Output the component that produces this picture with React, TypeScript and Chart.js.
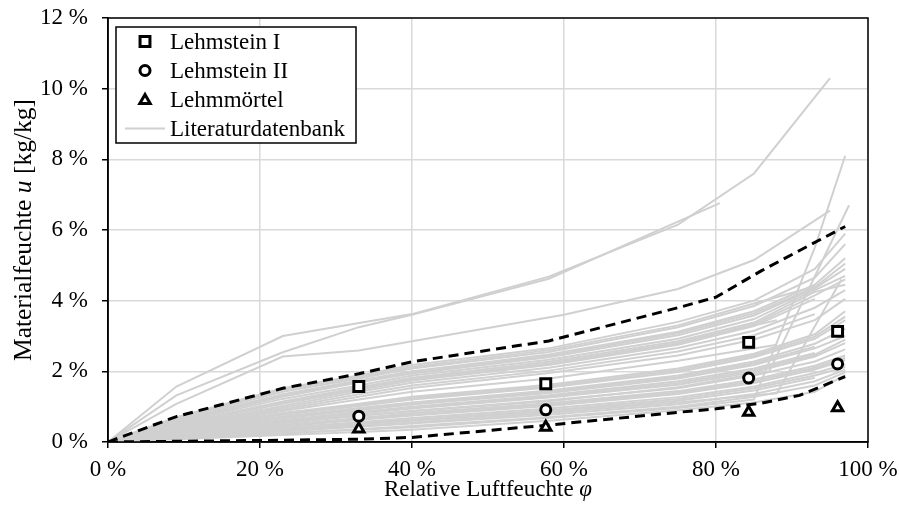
import React, { useEffect, useRef } from 'react';
import { Chart, registerables } from 'chart.js';

Chart.register(...registerables);

const FONT = "'Liberation Serif', 'Times New Roman', serif";
const FS = 23;
const FS_YTITLE = 25.5;

// Axis ticks
const xTickValues = [0, 20, 40, 60, 80, 100];
const yTickValues = [0, 2, 4, 6, 8, 10, 12];

// Measured samples (relative humidity in %, moisture content in %)
const rhMeasured = [33, 57.6, 84.3, 96];
const lehmsteinI = [1.57, 1.65, 2.82, 3.13];
const lehmsteinII = [0.73, 0.91, 1.81, 2.21];
const lehmmoertel = [0.37, 0.42, 0.84, 0.97];

// Envelope (dashed)
const envX = [0, 9, 23, 33, 40, 58, 75, 80, 86, 91, 97];
const envUpper = [0, 0.72, 1.52, 1.93, 2.27, 2.86, 3.8, 4.1, 4.85, 5.42, 6.1];
const envLower = [0, 0.02, 0.05, 0.08, 0.13, 0.48, 0.84, 0.94, 1.1, 1.32, 1.85];

// Literature database curves
const top1X = [0, 9, 23, 40, 58, 75, 85, 95];
const top1U = [0, 1.57, 3.0, 3.62, 4.68, 6.15, 7.6, 10.3];
const top2X = [0, 9, 23, 33, 40, 58, 80.5];
const top2U = [0, 1.32, 2.54, 3.25, 3.6, 4.62, 6.76];
const top3X = [0, 9, 23, 33, 40, 60, 75, 85, 95];
const top3U = [0, 1.08, 2.42, 2.59, 2.85, 3.6, 4.33, 5.15, 6.55];

const rhGrid = [0, 9, 23, 33, 40, 58, 75, 85, 93, 97];
const upperBand = [
  [0, 0.70, 1.52, 1.88, 2.18, 2.65, 3.40, 4.00, 4.90, 5.90],
  [0, 0.68, 1.48, 1.84, 2.12, 2.60, 3.30, 3.92, 4.40],
  [0, 0.66, 1.42, 1.80, 2.08, 2.55, 3.25, 3.85, 4.65, 5.60],
  [0, 0.62, 1.35, 1.74, 2.00, 2.48, 3.12, 3.70, 4.45, 5.20],
  [0, 0.60, 1.32, 1.70, 1.97, 2.44, 3.08, 3.64, 4.38, 5.05],
  [0, 0.58, 1.28, 1.68, 1.94, 2.40, 3.02, 3.58, 4.35, 4.90],
  [0, 0.55, 1.22, 1.60, 1.88, 2.33, 2.92, 3.48, 4.30, 4.70],
  [0, 0.52, 1.15, 1.54, 1.82, 2.27, 2.85, 3.38, 4.25, 4.45],
  [0, 0.50, 1.12, 1.50, 1.78, 2.22, 2.80, 3.33, 4.15, 4.60],
  [0, 0.48, 1.08, 1.47, 1.74, 2.18, 2.75, 3.28, 4.05],
  [0, 0.45, 1.02, 1.42, 1.68, 2.10, 2.66, 3.15, 3.80, 4.30],
  [0, 0.42, 0.97, 1.35, 1.60, 2.02, 2.56, 3.02, 3.62],
  [0, 0.40, 0.92, 1.28, 1.53, 1.95, 2.45, 2.90, 3.45, 4.05],
];
const lowerBand = [
  [0, 0.36, 0.82, 1.08, 1.28, 1.62, 2.08, 2.50, 3.05, 3.70],
  [0, 0.35, 0.80, 1.05, 1.24, 1.58, 2.03, 2.45, 2.98, 3.55],
  [0, 0.34, 0.77, 1.02, 1.20, 1.54, 1.98, 2.40, 2.92, 3.45],
  [0, 0.32, 0.72, 0.96, 1.12, 1.46, 1.88, 2.28, 2.78, 3.20],
  [0, 0.31, 0.70, 0.93, 1.09, 1.42, 1.84, 2.23, 2.70],
  [0, 0.30, 0.67, 0.90, 1.06, 1.39, 1.80, 2.18, 2.65, 3.00],
  [0, 0.28, 0.62, 0.85, 1.00, 1.32, 1.72, 2.08, 2.52],
  [0, 0.27, 0.60, 0.82, 0.98, 1.29, 1.67, 2.03, 2.47, 2.90],
  [0, 0.26, 0.57, 0.80, 0.95, 1.26, 1.62, 1.98, 2.42, 2.80],
  [0, 0.24, 0.52, 0.74, 0.88, 1.18, 1.52, 1.88, 2.28, 2.62],
  [0, 0.22, 0.48, 0.68, 0.82, 1.10, 1.44, 1.77, 2.16, 2.45],
  [0, 0.21, 0.46, 0.65, 0.78, 1.06, 1.40, 1.72, 2.10, 2.38],
  [0, 0.20, 0.44, 0.62, 0.75, 1.02, 1.36, 1.67, 2.05, 2.32],
  [0, 0.18, 0.40, 0.56, 0.68, 0.95, 1.27, 1.57, 1.95, 2.20],
  [0, 0.17, 0.38, 0.53, 0.64, 0.90, 1.22, 1.52, 1.88, 2.12],
  [0, 0.15, 0.35, 0.50, 0.60, 0.86, 1.17, 1.46, 1.82],
  [0, 0.12, 0.30, 0.43, 0.52, 0.77, 1.07, 1.36, 1.72, 2.05],
  [0, 0.10, 0.25, 0.36, 0.45, 0.70, 1.00, 1.28, 1.60, 1.98],
  [0, 0.08, 0.20, 0.28, 0.35, 0.60, 0.90, 1.12, 1.42, 1.90],
];
const steep1X = [0, 9, 23, 33, 40, 58, 75, 85, 93, 97];
const steep1U = [0, 0.10, 0.25, 0.35, 0.42, 0.68, 0.96, 1.20, 5.50, 8.10];
const steep2X = [0, 9, 23, 33, 40, 58, 75, 87, 97.5];
const steep2U = [0, 0.25, 0.55, 0.75, 0.88, 1.15, 1.55, 2.0, 6.7];
const steep3X = [0, 9, 23, 33, 40, 58, 75, 88, 96.5];
const steep3U = [0, 0.14, 0.33, 0.46, 0.55, 0.82, 1.12, 1.38, 4.6];
const short1X = [0, 9, 23, 33, 40, 58, 75, 88];
const short1U = [0, 0.50, 1.12, 1.50, 1.76, 2.20, 2.78, 3.45];
const short2X = [0, 9, 23, 33, 40, 58, 75, 88];
const short2U = [0, 0.38, 0.88, 1.20, 1.42, 1.80, 2.30, 2.75];

const GRAY = 'rgb(208,208,208)';

const pts = (xs: number[], ys: number[]) => ys.map((y, i) => ({ x: xs[i], y }));

function drawRich(ctx: CanvasRenderingContext2D, parts: { t: string; it?: boolean }[], cx: number, cy: number, rot: number, size: number) {
  ctx.save();
  ctx.translate(cx, cy);
  ctx.rotate(rot);
  ctx.textBaseline = 'middle';
  ctx.textAlign = 'left';
  ctx.fillStyle = '#000';
  let total = 0;
  const widths = parts.map((p) => {
    ctx.font = `${p.it ? 'italic ' : ''}${size}px ${FONT}`;
    const w = ctx.measureText(p.t).width;
    total += w;
    return w;
  });
  let x = -total / 2;
  parts.forEach((p, i) => {
    ctx.font = `${p.it ? 'italic ' : ''}${size}px ${FONT}`;
    ctx.fillText(p.t, x, 0);
    x += widths[i];
  });
  ctx.restore();
}

function drawMarker(ctx: CanvasRenderingContext2D, kind: string, x: number, y: number, r: number) {
  ctx.beginPath();
  if (kind === 'rect') {
    const s = r * Math.SQRT1_2;
    ctx.rect(x - s, y - s, 2 * s, 2 * s);
  } else if (kind === 'circle') {
    ctx.arc(x, y, r * 0.72, 0, Math.PI * 2);
  } else {
    ctx.moveTo(x, y - r);
    ctx.lineTo(x + Math.sin((2 * Math.PI) / 3) * r, y + r / 2);
    ctx.lineTo(x - Math.sin((2 * Math.PI) / 3) * r, y + r / 2);
    ctx.closePath();
  }
  ctx.fillStyle = '#fff';
  ctx.fill();
  ctx.stroke();
}

const decorPlugin = {
  id: 'decor',
  afterDraw(chart: any) {
    const { ctx, chartArea: a } = chart;
    ctx.save();
    ctx.strokeStyle = '#000';
    ctx.lineWidth = 1.5;
    ctx.strokeRect(a.left, a.top, a.right - a.left, a.bottom - a.top);

    // legend
    const lx = 116, ly = 27, lw = 240, lh = 116;
    ctx.fillStyle = '#fff';
    ctx.fillRect(lx, ly, lw, lh);
    ctx.strokeRect(lx, ly, lw, lh);
    const rows = [41.5, 70.5, 99.5, 128.5];
    const labels = ['Lehmstein I', 'Lehmstein II', 'Lehmmörtel', 'Literaturdatenbank'];
    const kinds = ['rect', 'circle', 'triangle', 'line'];
    rows.forEach((ry, i) => {
      ctx.strokeStyle = '#000';
      ctx.lineWidth = 3;
      if (kinds[i] === 'line') {
        ctx.strokeStyle = GRAY;
        ctx.lineWidth = 2;
        ctx.beginPath();
        ctx.moveTo(125, ry);
        ctx.lineTo(165, ry);
        ctx.stroke();
      } else {
        drawMarker(ctx, kinds[i], 145, ry + (kinds[i] === 'triangle' ? 1 : 0), kinds[i] === 'triangle' ? 6 : 7);
      }
      ctx.fillStyle = '#000';
      ctx.font = `${FS}px ${FONT}`;
      ctx.textBaseline = 'middle';
      ctx.textAlign = 'left';
      ctx.fillText(labels[i], 170, ry + 1);
    });
    ctx.restore();

    drawRich(ctx, [{ t: 'Materialfeuchte ' }, { t: 'u', it: true }, { t: ' [kg/kg]' }], 24, (a.top + a.bottom) / 2, -Math.PI / 2, FS_YTITLE);
    drawRich(ctx, [{ t: 'Relative Luftfeuchte ' }, { t: 'φ', it: true }], (a.left + a.right) / 2, 489.5, 0, FS);
  },
};

const zeroPad = (s: any) => {
  s.paddingTop = 0;
  s.paddingBottom = 0;
  s.paddingLeft = 0;
  s.paddingRight = 0;
};

export default function App() {
  const ref = useRef<HTMLCanvasElement | null>(null);
  useEffect(() => {
    if (!ref.current) return;
    const marker = (label: string, data: number[], style: string, r: number) => ({
      label,
      data: pts(rhMeasured, data),
      showLine: false,
      pointStyle: style,
      pointRadius: r,
      pointBorderWidth: 3,
      pointBorderColor: '#000',
      pointBackgroundColor: '#fff',
      borderColor: '#000',
      backgroundColor: '#fff',
    });
    const dashed = (label: string, data: number[]) => ({
      label,
      data: pts(envX, data),
      showLine: true,
      borderColor: '#000',
      borderWidth: 3,
      borderDash: [10, 6],
      pointRadius: 0,
      tension: 0,
    });
    const gray = (label: string, xs: number[], ys: number[]) => ({
      label,
      data: pts(xs, ys),
      showLine: true,
      borderColor: GRAY,
      borderWidth: 2,
      pointRadius: 0,
      tension: 0,
    });
    const grayCurves: any[] = [
      gray('Literaturdatenbank', top1X, top1U),
      gray('', top2X, top2U),
      gray('', top3X, top3U),
      ...upperBand.map((u) => gray('', rhGrid, u)),
      ...lowerBand.map((u) => gray('', rhGrid, u)),
      gray('', steep1X, steep1U),
      gray('', steep2X, steep2U),
      gray('', steep3X, steep3U),
      gray('', short1X, short1U),
      gray('', short2X, short2U),
    ];
    const chart = new Chart(ref.current, {
      type: 'scatter',
      data: {
        datasets: [
          marker('Lehmstein I', lehmsteinI, 'rect', 7),
          marker('Lehmstein II', lehmsteinII, 'circle', 5),
          marker('Lehmmörtel', lehmmoertel, 'triangle', 6),
          dashed('Obergrenze', envUpper),
          dashed('Untergrenze', envLower),
          ...grayCurves,
        ],
      } as any,
      options: {
        animation: false,
        responsive: false,
        devicePixelRatio: 1,
        layout: { padding: { top: 18, right: 31, left: 0, bottom: 0 } },
        plugins: { legend: { display: false }, tooltip: { enabled: false } },
        scales: {
          x: {
            type: 'linear',
            min: 0,
            max: 100,
            afterBuildTicks: (s: any) => { s.ticks = xTickValues.map((v) => ({ value: v })); },
            afterFit: (s: any) => { s.height = 64; zeroPad(s); },
            grid: { color: '#d9d9d9', lineWidth: 1.5, tickColor: '#000', tickLength: 6, tickWidth: 1.5 },
            border: { color: '#000', width: 1.5 },
            ticks: { color: '#000', padding: 8, maxRotation: 0, font: { family: FONT, size: FS }, callback: (v: any) => `${v} %` },
          },
          y: {
            type: 'linear',
            min: 0,
            max: 12,
            afterBuildTicks: (s: any) => { s.ticks = yTickValues.map((v) => ({ value: v })); },
            afterFit: (s: any) => { s.width = 108; zeroPad(s); },
            grid: { color: '#d9d9d9', lineWidth: 1.5, tickColor: '#000', tickLength: 6, tickWidth: 1.5 },
            border: { color: '#000', width: 1.5 },
            ticks: { color: '#000', padding: 14, font: { family: FONT, size: FS }, callback: (v: any) => `${v} %` },
          },
        },
      } as any,
      plugins: [decorPlugin],
    });
    return () => chart.destroy();
  }, []);
  return (
    <div style={{ position: 'absolute', left: 0, top: 0, width: 899, height: 506, background: '#fff' }}>
      <canvas ref={ref} width={899} height={506} style={{ display: 'block', width: 899, height: 506 }} />
    </div>
  );
}
